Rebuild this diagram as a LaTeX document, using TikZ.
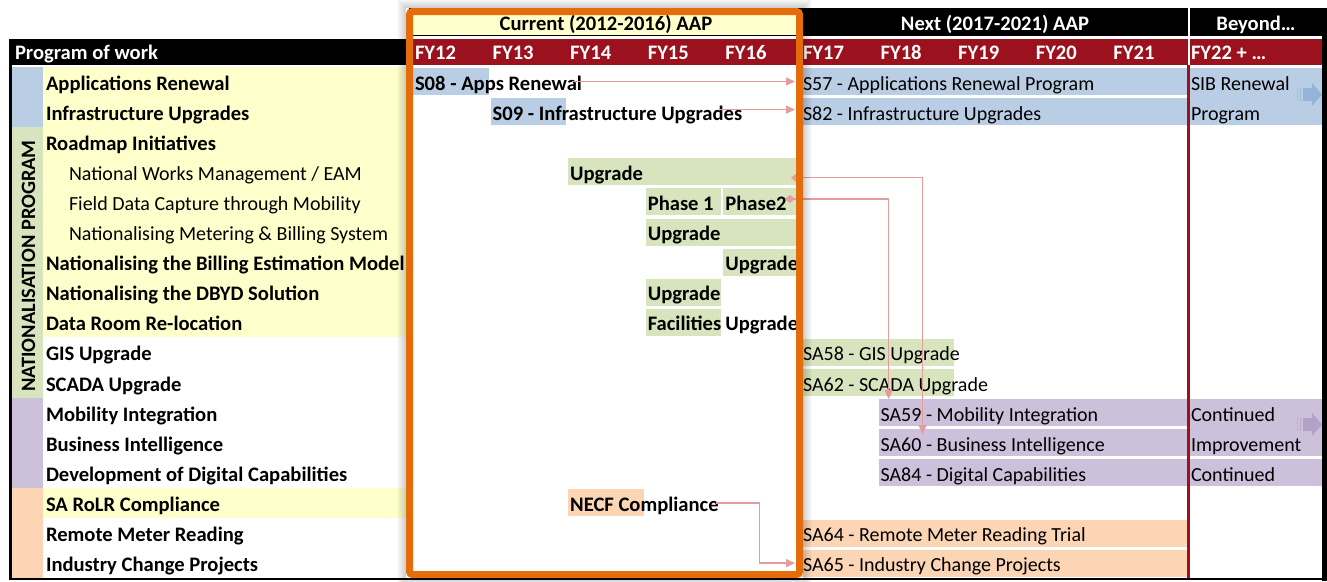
\documentclass[tikz,border=0pt]{standalone}
\usepackage{fontspec}
\setmainfont{Carlito}
\usetikzlibrary{arrows.meta}

\definecolor{fyred}{RGB}{155,17,30}
\definecolor{aaporange}{RGB}{228,108,10}
\definecolor{cblue}{RGB}{185,205,229}
\definecolor{cgreen}{RGB}{215,228,189}
\definecolor{cpurple}{RGB}{204,192,218}
\definecolor{cpeach}{RGB}{252,213,181}
\definecolor{cyellow}{RGB}{255,255,204}
\definecolor{linkpink}{RGB}{229,156,158}
\definecolor{ablue}{RGB}{149,179,215}
\definecolor{apurple}{RGB}{179,162,199}

% a bar spanning columns #2 .. #3-1 in row #4
\newcommand\gbar[5]{%
  \pgfmathsetmacro\gx{412+77.6*#2+1}%
  \pgfmathsetmacro\gw{77.6*(#3-#2)-2}%
  \pgfmathsetmacro\gy{66.5+30.1*#4+1.5}%
  \node[barbox,fill=#5,minimum width=\gw pt,anchor=north west] (#1) at (\gx,\gy) {};}
% a text placed at the start of column #2 in row #3
\newcommand\gtext[5]{%
  \pgfmathsetmacro\gx{412+77.6*#2+3}%
  \pgfmathsetmacro\gy{90+30.1*#3}%
  \node[#4,anchor=base west] (#1) at (\gx,\gy) {#5};}
% a row label of the program of work
\newcommand\rowlabel[4]{%
  \pgfmathsetmacro\gy{90+30.1*#2}%
  \node[#3,anchor=base west] (#1) at (46,\gy) {#4};}
% a block arrow in the last column, centred on height #2
\newcommand\blockarrow[2]{%
  \fill[#1,opacity=.45] (1297,{#2-6.5}) rectangle (1298.4,{#2+6.5});
  \fill[#1,opacity=.7] (1299.6,{#2-6.5}) rectangle (1301.4,{#2+6.5});
  \fill[#1] (1302.6,{#2-6.5}) rectangle (1312.2,{#2+6.5});
  \fill[#1] (1312,{#2-11.5}) -- (1322,#2) -- (1312,{#2+11.5}) -- cycle;}

\tikzset{
  barbox/.style={rectangle,draw=none,inner sep=0pt,outer sep=0pt,minimum height=27pt},
  lbl/.style={inner sep=0pt,outer sep=0pt,font=\fontsize{20}{24}\selectfont},
  lblb/.style={lbl,font=\fontsize{20.6}{24}\selectfont\bfseries},
  ind/.style={lbl,xshift=23pt},
  hdr/.style={lblb,text=white},
  link/.style={linkpink,line width=1.3pt},
  linkarrow/.style={link,-{Triangle[length=9pt,width=8pt]}},
  linkdiamond/.style={link,{Diamond[length=10pt,width=8pt]}-{Triangle[length=9pt,width=8pt]}}
}

\begin{document}
\begin{tikzpicture}[x=1pt,y=-1pt]
\useasboundingbox (0,0) rectangle (1327,581);
\fill[white] (0,0) rectangle (1327,581);

% --- header rows ---
\fill[black] (409,8) rectangle (1327,36);
\fill[cyellow] (413,13) rectangle (796,35);
\node[lblb,anchor=base] (cur) at (606,30.7) {Current (2012-2016) AAP};
\node[hdr,anchor=base] (nxt) at (995,30.7) {Next (2017-2021) AAP};
\node[hdr,anchor=base] (bey) at (1256,30.7) {Beyond…};
\fill[black] (9,39) rectangle (410,65);
\fill[fyred] (410,39) rectangle (1327,65);
\node[hdr,anchor=base west] (pow) at (15,59.5) {Program of work};
\foreach \i/\t in {0/FY12,1/FY13,2/FY14,3/FY15,4/FY16,5/FY17,6/FY18,7/FY19,8/FY20,9/FY21,10/FY22 + …}{
  \pgfmathsetmacro\fx{412+77.6*\i+3}
  \node[hdr,anchor=base west] (fy\i) at (\fx,59.5) {\t};
}
\fill[white] (1187.5,8) rectangle (1189.5,65);

% --- category strip and label backgrounds ---
\fill[cblue] (11,67) rectangle (43,126.7);
\fill[cgreen] (11,126.7) rectangle (43,397.6);
\fill[cpurple] (11,397.6) rectangle (43,487.9);
\fill[cpeach] (11,487.9) rectangle (43,578);
\fill[cyellow] (43,67) rectangle (406,337.4);
\fill[cyellow] (43,487.9) rectangle (406,518);
\node[lblb,font=\fontsize{20.4}{24}\selectfont\bfseries,rotate=90] (natprog) at (28.5,266) {NATIONALISATION PROGRAM};

% --- program of work ---
\rowlabel{l0}{0}{lblb}{Applications Renewal}
\rowlabel{l1}{1}{lblb}{Infrastructure Upgrades}
\rowlabel{l2}{2}{lblb}{Roadmap Initiatives}
\rowlabel{l3}{3}{ind}{National Works Management / EAM}
\rowlabel{l4}{4}{ind}{Field Data Capture through Mobility}
\rowlabel{l5}{5}{ind}{Nationalising Metering \& Billing System}
\rowlabel{l6}{6}{lblb}{Nationalising the Billing Estimation Model}
\rowlabel{l7}{7}{lblb}{Nationalising the DBYD Solution}
\rowlabel{l8}{8}{lblb}{Data Room Re-location}
\rowlabel{l9}{9}{lblb}{GIS Upgrade}
\rowlabel{l10}{10}{lblb}{SCADA Upgrade}
\rowlabel{l11}{11}{lblb}{Mobility Integration}
\rowlabel{l12}{12}{lblb}{Business Intelligence}
\rowlabel{l13}{13}{lblb}{Development of Digital Capabilities}
\rowlabel{l14}{14}{lblb}{SA RoLR Compliance}
\rowlabel{l15}{15}{lblb}{Remote Meter Reading}
\rowlabel{l16}{16}{lblb}{Industry Change Projects}

% --- current AAP bars ---
\gbar{s08}{0}{1}{0}{cblue}
\gbar{s09}{1}{2}{1}{cblue}
\gbar{upg3}{2}{5}{3}{cgreen}
\gbar{ph1}{3}{4}{4}{cgreen}
\gbar{ph2}{4}{5}{4}{cgreen}
\gbar{upg5}{3}{5}{5}{cgreen}
\gbar{upg6}{4}{5}{6}{cgreen}
\gbar{upg7}{3}{4}{7}{cgreen}
\gbar{fac}{3}{4}{8}{cgreen}
\gbar{necf}{2}{3}{14}{cpeach}

% --- next AAP bars ---
\gbar{s57}{5}{10}{0}{cblue}
\gbar{s82}{5}{10}{1}{cblue}
\gbar{sa58}{5}{7}{9}{cgreen}
\gbar{sa62}{5}{7}{10}{cgreen}
\gbar{sa59}{6}{10}{11}{cpurple}
\gbar{sa60}{6}{10}{12}{cpurple}
\gbar{sa84}{6}{10}{13}{cpurple}
\gbar{sa64}{5}{10}{15}{cpeach}
\gbar{sa65}{5}{10}{16}{cpeach}

% --- beyond bars ---
\node[barbox,fill=cblue,minimum width=132pt,minimum height=57.2pt,anchor=north west] (sib) at (1190,68) {};
\node[barbox,fill=cpurple,minimum width=132pt,minimum height=57.2pt,anchor=north west] (cim) at (1190,399.1) {};
\node[barbox,fill=cpurple,minimum width=132pt,anchor=north west] (con) at (1190,459.3) {};
\blockarrow{ablue}{94.5}
\blockarrow{apurple}{424.5}

% --- bar texts ---
\gtext{s08t}{0}{0}{lblb}{S08 - Apps Renewal}
\gtext{s09t}{1}{1}{lblb}{S09 - Infrastructure Upgrades}
\gtext{upg3t}{2}{3}{lblb}{Upgrade}
\gtext{ph1t}{3}{4}{lblb}{Phase 1}
\gtext{ph2t}{4}{4}{lblb}{Phase2}
\gtext{upg5t}{3}{5}{lblb}{Upgrade}
\gtext{upg6t}{4}{6}{lblb}{Upgrade}
\gtext{upg7t}{3}{7}{lblb}{Upgrade}
\gtext{fact}{3}{8}{lblb}{Facilities}
\gtext{upg8t}{4}{8}{lblb}{Upgrade}
\gtext{necft}{2}{14}{lblb}{NECF Compliance}
\gtext{s57t}{5}{0}{lbl}{S57 - Applications Renewal Program}
\gtext{s82t}{5}{1}{lbl}{S82 - Infrastructure Upgrades}
\gtext{sa58t}{5}{9}{lbl}{SA58 - GIS Upgrade}
\gtext{sa62t}{5}{10}{lbl}{SA62 - SCADA Upgrade}
\gtext{sa59t}{6}{11}{lbl}{SA59 - Mobility Integration}
\gtext{sa60t}{6}{12}{lbl}{SA60 - Business Intelligence}
\gtext{sa84t}{6}{13}{lbl}{SA84 - Digital Capabilities}
\gtext{sa64t}{5}{15}{lbl}{SA64 - Remote Meter Reading Trial}
\gtext{sa65t}{5}{16}{lbl}{SA65 - Industry Change Projects}
\gtext{sibt}{10}{0}{lbl}{SIB Renewal}
\gtext{sibt2}{10}{1}{lbl}{Program}
\gtext{cimt}{10}{11}{lbl}{Continued}
\gtext{cimt2}{10}{12}{lbl}{Improvement}
\gtext{cont}{10}{13}{lbl}{Continued}

% --- divider before the last column ---
\draw[fyred,line width=3pt] (1188.5,65) -- (1188.5,578);

% --- links between stages ---
\coordinate (a1) at ([xshift=-10pt]s08t.east);
\coordinate (a1e) at ([xshift=-6pt]s57.west);
\draw[linkarrow] (a1 |- a1e) -- (a1e);
\coordinate (a2) at ([xshift=-23pt]s09t.east);
\coordinate (a2e) at ([xshift=-6pt,yshift=2pt]s82.west);
\draw[linkarrow] (a2 |- a2e) -- (a2e);
\coordinate (u1) at ([xshift=-8pt,yshift=-6pt]upg3.east);
\coordinate (u2) at ([xshift=44pt,yshift=-5pt]sa60.north west);
\draw[linkdiamond] (u1) -| (u2);
\coordinate (p1) at ([xshift=-14pt,yshift=3pt]ph2.east);
\coordinate (p2) at ([xshift=10pt]sa59.north west);
\draw[linkdiamond] (p1) -| (p2);
\coordinate (n0) at ([xshift=-3pt]necft.east);
\coordinate (n2) at ([xshift=-6pt]sa65.west);
\draw[linkarrow] (n0 |- necf.east) -- ++(44,0) |- (n2);

% --- current AAP frame with its soft shadow ---
\foreach \k in {1,...,9}{
  \pgfmathsetmacro\op{0.2*(1-\k/10)}
  \draw[black,opacity=\op,line width=1pt] ({406-\k+0.5},{8-\k+0.5}) rectangle ({803+\k-0.5},{578+\k-0.5});
}
\draw[aaporange,line width=7pt,rounded corners=3pt] (409.5,11.5) rectangle (799.5,574.5);

% --- outer frame ---
\draw[black,line width=2.5pt] (10.5,39) -- (10.5,578.8) -- (1327,578.8);
\draw[black,line width=5pt] (1324.5,8) -- (1324.5,581);
\end{tikzpicture}
\end{document}
